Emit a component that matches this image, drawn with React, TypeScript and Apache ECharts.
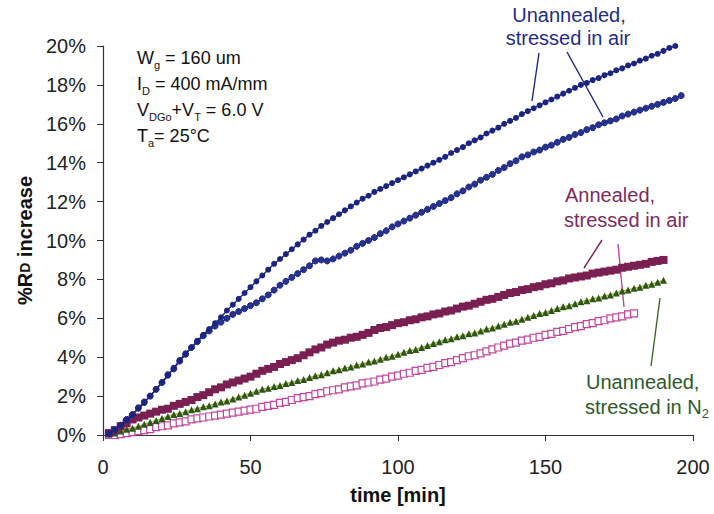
import React, { useEffect, useRef } from "react";
import * as echarts from "echarts";

// Sampling times (min) shared by all measurement series
const minutes = [
  2, 4, 6, 8, 10, 12, 14, 16, 18, 20, 22, 24, 26, 28, 30, 32, 34, 36, 38, 40,
  42, 44, 46, 48, 50, 52, 54, 56, 58, 60, 62, 64, 66, 68, 70, 72, 74, 76, 78, 80,
  82, 84, 86, 88, 90, 92, 94, 96, 98, 100, 102, 104, 106, 108, 110, 112, 114, 116, 118, 120,
  122, 124, 126, 128, 130, 132, 134, 136, 138, 140, 142, 144, 146, 148, 150, 152, 154, 156, 158, 160,
  162, 164, 166, 168, 170, 172, 174, 176, 178, 180, 182, 184, 186, 188, 190, 192, 194, 196,
];

// %RD increase, unannealed device A stressed in air
const unannealedAirA = [
  0.1, 0.3, 0.5, 0.75, 1.05, 1.35, 1.65, 2.0, 2.35, 2.7, 3.05, 3.45, 3.85, 4.2, 4.5, 4.85, 5.15, 5.45, 5.75, 6.05,
  6.4, 6.7, 7.0, 7.3, 7.6, 7.9, 8.2, 8.5, 8.8, 9.05, 9.3, 9.55, 9.8, 10.05, 10.3, 10.5, 10.75, 10.95, 11.15, 11.35,
  11.55, 11.75, 11.95, 12.15, 12.3, 12.5, 12.65, 12.8, 12.95, 13.1, 13.25, 13.4, 13.55, 13.7, 13.85, 14.0, 14.15, 14.3, 14.5, 14.65,
  14.8, 15.0, 15.15, 15.3, 15.5, 15.65, 15.8, 16.0, 16.15, 16.3, 16.5, 16.65, 16.8, 16.95, 17.1, 17.25, 17.4, 17.55, 17.7, 17.85,
  18.0, 18.1, 18.25, 18.35, 18.5, 18.6, 18.75, 18.85, 19.0, 19.1, 19.25, 19.35, 19.5, 19.6, 19.75, 19.9, 20.0,
];

// %RD increase, unannealed device B stressed in air
const unannealedAirB = [
  0.05, 0.25, 0.5, 0.8, 1.05, 1.4, 1.7, 2.0, 2.35, 2.7, 3.1, 3.4, 3.8, 4.15, 4.5, 4.8, 5.1, 5.35, 5.6, 5.8,
  6.0, 6.2, 6.35, 6.5, 6.65, 6.8, 7.0, 7.2, 7.45, 7.7, 7.9, 8.1, 8.3, 8.5, 8.7, 8.95, 9.0, 8.95, 9.05, 9.2,
  9.35, 9.5, 9.7, 9.85, 10.0, 10.15, 10.35, 10.5, 10.7, 10.85, 11.0, 11.15, 11.3, 11.45, 11.6, 11.75, 11.9, 12.05, 12.2, 12.4,
  12.55, 12.75, 12.9, 13.1, 13.25, 13.4, 13.6, 13.75, 13.95, 14.1, 14.3, 14.4, 14.55, 14.65, 14.8, 14.9, 15.05, 15.2, 15.3, 15.45,
  15.55, 15.7, 15.8, 15.95, 16.05, 16.15, 16.25, 16.4, 16.5, 16.6, 16.7, 16.8, 16.9, 17.0, 17.1, 17.2, 17.3, 17.45,
];

// %RD increase, annealed device stressed in air (filled squares)
const annealedAirA = [
  0.1, 0.25, 0.45, 0.6, 0.8, 0.9, 1.0, 1.1, 1.2, 1.3, 1.35, 1.5, 1.6, 1.7, 1.8, 1.95, 2.05, 2.2, 2.35, 2.45,
  2.6, 2.7, 2.8, 2.9, 3.0, 3.15, 3.3, 3.4, 3.5, 3.65, 3.75, 3.85, 3.95, 4.1, 4.25, 4.4, 4.5, 4.65, 4.75, 4.85,
  4.9, 5.0, 5.05, 5.15, 5.25, 5.4, 5.5, 5.55, 5.65, 5.75, 5.8, 5.9, 5.95, 6.05, 6.1, 6.2, 6.25, 6.35, 6.4, 6.5,
  6.6, 6.65, 6.75, 6.85, 6.95, 7.0, 7.1, 7.2, 7.3, 7.35, 7.45, 7.5, 7.6, 7.65, 7.75, 7.8, 7.9, 7.95, 8.05, 8.1,
  8.15, 8.2, 8.3, 8.35, 8.4, 8.45, 8.5, 8.6, 8.65, 8.7, 8.75, 8.8, 8.9, 8.95, 9.0,
];

// %RD increase, unannealed device stressed in N2 (triangles)
const unannealedN2 = [
  0.05, 0.1, 0.2, 0.3, 0.35, 0.45, 0.55, 0.65, 0.75, 0.85, 0.95, 1.05, 1.1, 1.2, 1.3, 1.35, 1.45, 1.5, 1.6, 1.7,
  1.75, 1.85, 1.95, 2.05, 2.15, 2.25, 2.35, 2.4, 2.5, 2.55, 2.65, 2.7, 2.8, 2.85, 2.95, 3.05, 3.1, 3.2, 3.3, 3.35,
  3.45, 3.5, 3.6, 3.65, 3.75, 3.8, 3.9, 4.0, 4.05, 4.15, 4.25, 4.35, 4.4, 4.5, 4.6, 4.7, 4.8, 4.9, 4.95, 5.05,
  5.1, 5.2, 5.25, 5.35, 5.45, 5.5, 5.6, 5.7, 5.8, 5.85, 5.95, 6.05, 6.15, 6.25, 6.3, 6.4, 6.5, 6.6, 6.65, 6.75,
  6.85, 6.9, 7.0, 7.05, 7.15, 7.2, 7.3, 7.4, 7.45, 7.55, 7.6, 7.7, 7.75, 7.85, 7.95,
];

// %RD increase, annealed device stressed in air (open squares)
const annealedAirB = [
  0.0, 0.0, 0.05, 0.1, 0.15, 0.2, 0.25, 0.3, 0.4, 0.45, 0.5, 0.6, 0.65, 0.7, 0.8, 0.85, 0.9, 0.95, 1.0, 1.05,
  1.1, 1.15, 1.2, 1.25, 1.3, 1.35, 1.45, 1.5, 1.55, 1.65, 1.7, 1.8, 1.9, 1.95, 2.0, 2.1, 2.15, 2.25, 2.3, 2.35,
  2.45, 2.5, 2.55, 2.65, 2.7, 2.75, 2.85, 2.9, 3.0, 3.05, 3.15, 3.2, 3.3, 3.35, 3.45, 3.5, 3.6, 3.7, 3.75, 3.85,
  3.95, 4.05, 4.1, 4.2, 4.3, 4.4, 4.5, 4.6, 4.7, 4.75, 4.85, 4.9, 5.0, 5.05, 5.15, 5.2, 5.3, 5.35, 5.45, 5.55,
  5.6, 5.7, 5.75, 5.85, 5.9, 6.0, 6.05, 6.1, 6.2, 6.25,
];

const xTicks = { min: 0, max: 200, interval: 50 };
const yTicks = { min: 0, max: 20, interval: 2 };

const FONT = '"Liberation Sans", Arial, Helvetica, sans-serif';

const pairs = (vals: number[]) => vals.map((v, i) => [minutes[i], v]);

export default function App() {
  const ref = useRef<HTMLDivElement>(null);

  useEffect(() => {
    document.body.style.margin = "0";
    const chart = echarts.init(ref.current!, null, { renderer: "svg" });

    const blue = "#1b2580";
    const maroon = "#7a1f52";
    const magenta = "#c2449c";
    const green = "#2e5716";

    const subRich = {
      s: { fontSize: 11, fontFamily: FONT, color: "#111", verticalAlign: "bottom", lineHeight: 24 },
    };

    const boxLine = (text: string, y: number) => ({
      type: "text",
      left: 137,
      top: y - 12,
      style: {
        text,
        fontSize: 18,
        fontFamily: FONT,
        fill: "#111",
        lineHeight: 22,
        rich: subRich,
      },
    });

    const label = (text: string, x: number, y: number, color: string, align: string) => ({
      type: "text",
      x,
      y,
      style: {
        text,
        fontSize: 20,
        fontFamily: FONT,
        fill: color,
        align,
        verticalAlign: "middle",
        rich: { s: { fontSize: 13, fontFamily: FONT, color, verticalAlign: "bottom", lineHeight: 26 } },
      },
    });

    const leader = (x1: number, y1: number, x2: number, y2: number, color: string) => ({
      type: "line",
      shape: { x1, y1, x2, y2 },
      style: { stroke: color, lineWidth: 1.4 },
    });

    chart.setOption({
      animation: false,
      backgroundColor: "#fff",
      textStyle: { fontFamily: FONT },
      grid: { left: 103, top: 46, width: 590, height: 389, containLabel: false },
      xAxis: {
        type: "value",
        ...xTicks,
        name: "time [min]",
        nameLocation: "middle",
        nameGap: 50,
        nameTextStyle: { fontSize: 20, fontWeight: "bold", color: "#111", fontFamily: FONT },
        axisLine: { show: true, lineStyle: { color: "#333", width: 1.2 } },
        axisTick: { show: true, inside: false, length: 6, lineStyle: { color: "#333" } },
        axisLabel: { fontSize: 20, color: "#222", margin: 22, fontFamily: FONT },
        splitLine: { show: false },
      },
      yAxis: {
        type: "value",
        ...yTicks,
        name: "%R{s|D} increase",
        nameLocation: "middle",
        nameGap: 64,
        nameTextStyle: {
          fontSize: 20,
          fontWeight: "bold",
          color: "#111",
          fontFamily: FONT,
          rich: { s: { fontSize: 14, fontWeight: "bold", color: "#111", fontFamily: FONT } },
        },
        axisLine: { show: true, lineStyle: { color: "#333", width: 1.2 } },
        axisTick: { show: true, inside: false, length: 6, lineStyle: { color: "#333" } },
        axisLabel: { fontSize: 20, color: "#222", margin: 17, fontFamily: FONT, formatter: (v: number) => `${v}%` },
        splitLine: { show: false },
      },
      series: [
        {
          name: "Annealed, stressed in air (open)",
          type: "line",
          data: pairs(annealedAirB),
          symbol: "rect",
          symbolSize: 7,
          lineStyle: { color: magenta, width: 1 },
          itemStyle: { color: "#fff", borderColor: magenta, borderWidth: 1.2 },
          z: 2,
        },
        {
          name: "Unannealed, stressed in N2",
          type: "line",
          data: pairs(unannealedN2),
          symbol: "triangle",
          symbolSize: 7,
          lineStyle: { color: "#a8b840", width: 1.5 },
          itemStyle: { color: green },
          z: 3,
        },
        {
          name: "Annealed, stressed in air",
          type: "line",
          data: pairs(annealedAirA),
          symbol: "rect",
          symbolSize: 8,
          lineStyle: { color: maroon, width: 2 },
          itemStyle: { color: maroon },
          z: 4,
        },
        {
          name: "Unannealed, stressed in air (B)",
          type: "line",
          data: pairs(unannealedAirB),
          symbol: "circle",
          symbolSize: 6,
          lineStyle: { color: blue, width: 1.4 },
          itemStyle: { color: "#27348f", borderColor: blue, borderWidth: 1 },
          z: 5,
        },
        {
          name: "Unannealed, stressed in air (A)",
          type: "line",
          data: pairs(unannealedAirA),
          symbol: "circle",
          symbolSize: 6,
          lineStyle: { color: blue, width: 1.4 },
          itemStyle: { color: blue },
          z: 6,
        },
      ],
      graphic: [
        boxLine("W{s|g} = 160 um", 58),
        boxLine("I{s|D} = 400 mA/mm", 84),
        boxLine("V{s|DGo}+V{s|T} = 6.0 V", 110),
        boxLine("T{s|a}= 25°C", 136),
        label("Unannealed,", 569, 15, "#1f2d88", "center"),
        label("stressed in air", 568, 38, "#1f2d88", "center"),
        leader(539, 53, 532, 101, blue),
        leader(567, 52, 603, 117, blue),
        label("Annealed,", 565, 195, "#7d2a5f", "left"),
        label("stressed in air", 564, 220, "#7d2a5f", "left"),
        leader(602, 240, 584, 268, maroon),
        leader(618, 244, 624, 307, magenta),
        label("Unannealed,", 586, 382, "#2d5a2a", "left"),
        label("stressed in N{s|2}", 585, 407, "#2d5a2a", "left"),
        leader(660, 298, 651, 366, "#3a6a2a"),
      ],
    });

    return () => chart.dispose();
  }, []);

  return <div ref={ref} style={{ width: 714, height: 514 }} />;
}
